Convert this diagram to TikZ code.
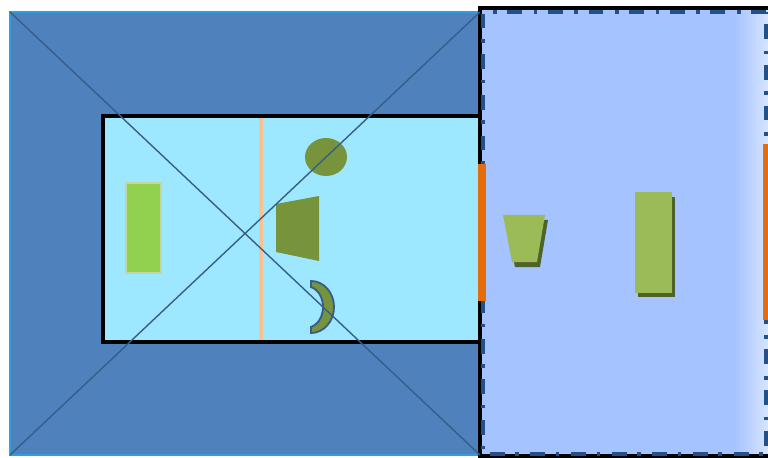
\documentclass[tikz,border=0pt]{standalone}
\usepackage{xcolor}
\usetikzlibrary{calc}

\definecolor{wallblue}{HTML}{4F81BD}
\definecolor{walledge}{HTML}{2E9FE0}
\definecolor{diagblue}{HTML}{385D8A}
\definecolor{roomcyan}{HTML}{9EE8FF}
\definecolor{sideblue}{HTML}{A5C3FF}
\definecolor{sidelight}{HTML}{D6E4FF}
\definecolor{dashblue}{HTML}{24508A}
\definecolor{doororange}{HTML}{E46C0A}
\definecolor{peach}{HTML}{FAC090}
\definecolor{leafgreen}{HTML}{92D050}
\definecolor{leafedge}{HTML}{C3D69B}
\definecolor{olive}{HTML}{77933C}
\definecolor{lightolive}{HTML}{9BBB59}
\definecolor{darkolive}{HTML}{4F6228}

\begin{document}
\begin{tikzpicture}[
  x=0.03cm, y=-0.03cm,
  wall/.style={fill=wallblue, draw=walledge, line width=1.2pt},
  diag/.style={draw=diagblue, line width=1.2pt},
  room/.style={fill=roomcyan, draw=black, line width=3.4pt},
  frame/.style={draw=black, line width=3.4pt},
  dashframe/.style={draw=dashblue, line width=3pt, dash pattern=on 12.7pt off 9pt on 3pt off 10pt},
  door/.style={fill=doororange},
  item/.style={fill=olive},
  shadow/.style={fill=darkolive},
  block/.style={fill=lightolive}
]
\useasboundingbox (0,0) rectangle (768,458);

% outer wall area
\coordinate (oTL) at (10,12);
\coordinate (oBR) at (480,455);
\coordinate (oBL) at (10,455);
\coordinate (oTR) at (480,12);
\path[wall] (oTL) rectangle (oBR);

% inner room
\path[room] (103,116) rectangle (480,342);

% right side area
\fill[sideblue] (480,8) rectangle (735,456);
\shade[left color=sideblue, right color=sidelight] (734,8) rectangle (768,456);
\draw[frame] (768,8) -- (480,8) -- (480,456) -- (768,456);
\draw[dashframe] (766,12) -- (483,12) -- (483,454) -- (766,454) -- cycle;

% items in the room
\path[fill=leafgreen, draw=leafedge, line width=2pt] (126,183) rectangle (161,273);
\draw[peach, line width=2.6pt] (261,118) -- (261,340);
\fill[item] (326,157) ellipse [x radius=21, y radius=19];
\fill[item] (276,204) -- (319,196) -- (319,261) -- (276,252) -- cycle;
\path[item, draw=diagblue, line width=1.6pt] (311,281) arc[start angle=-90, end angle=90, x radius=23, y radius=26]
  -- (311,327) .. controls (327,321) and (327,293) .. (311,287) -- cycle;

% diagonals
\draw[diag] (oTL) -- (oBR);
\draw[diag] (oBL) -- (oTR);

% doors
\fill[door] (478,164) rectangle (486,301);
\fill[door] (763,144) rectangle (768,320);

% items on the right
\fill[shadow] (506,220) -- (548,220) -- (540,267) -- (515,267) -- cycle;
\fill[block] (503,215) -- (545,215) -- (537,262) -- (512,262) -- cycle;
\fill[shadow] (638,197) rectangle (675,297);
\fill[block] (635,192) rectangle (672,293);
\end{tikzpicture}
\end{document}
